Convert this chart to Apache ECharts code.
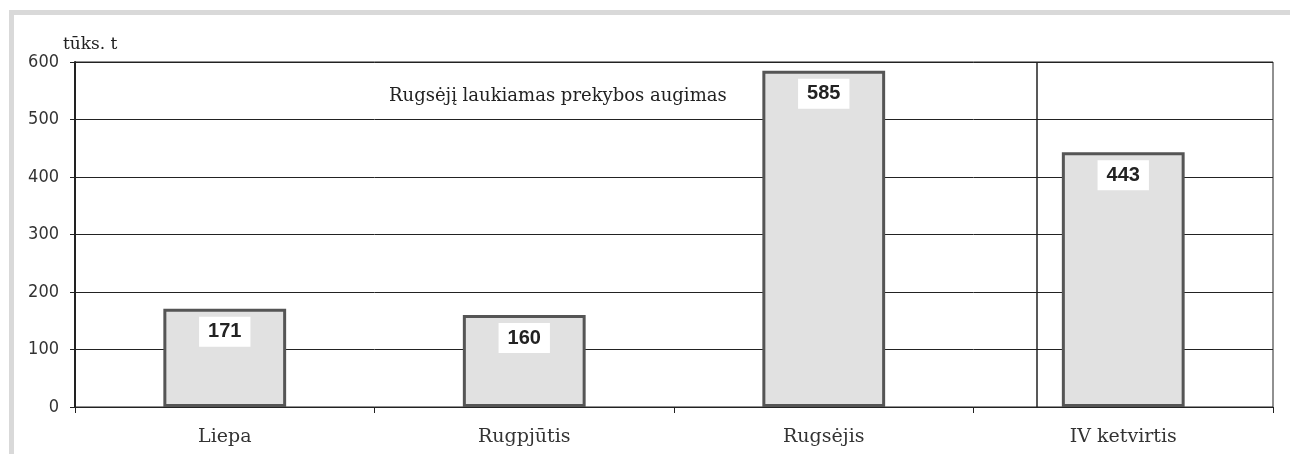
<!DOCTYPE html>
<html>
<head>
<meta charset="utf-8">
<script src="https://cdn.jsdelivr.net/npm/echarts@6/dist/echarts.min.js"></script>
<style>
    html, body { margin: 0; padding: 0; background: #fff; }
    #frame { position: absolute; left: 9px; top: 10px; width: 1276px; height: 450px;
             border-top: 5px solid #d9d9d9; border-left: 5px solid #d9d9d9; border-right: 2px solid #ececec; }
    #chart { position: absolute; left: 0; top: 0; width: 1290px; height: 454px; }
</style>
</head>
<body>
<div id="frame"></div>
<div id="chart"></div>
<script>
var categories = ["Liepa", "Rugpjūtis", "Rugsėjis", "IV ketvirtis"];
var values = [171, 160, 585, 443];
var yTicks = [0, 100, 200, 300, 400, 500, 600];
var unitName = "tūks. t";
var noteText = "Rugsėjį laukiamas prekybos augimas";
// separator between monthly and quarter data, in category units (0..4)
var separatorPos = 3.213;

var myChart = echarts.init(document.getElementById("chart"));
var option = {
    animation: false,
    grid: {
        left: 75, right: 17, top: 62, bottom: 47,
        show: true, borderColor: "#222", borderWidth: 1, backgroundColor: "transparent"
    },
    title: {
        text: noteText,
        left: 384, top: 82,
        textStyle: { fontFamily: "DejaVu Serif", fontWeight: "normal", fontSize: 18, color: "#222" }
    },
    xAxis: [{
        type: "category",
        data: categories,
        axisLine: { lineStyle: { color: "#222", width: 1 } },
        axisTick: { show: true, length: 6, lineStyle: { color: "#222" } },
        axisLabel: { fontFamily: "DejaVu Serif", fontSize: 19, color: "#333", margin: 21 }
    }, {
        type: "value",
        min: 0, max: 4,
        show: false
    }],
    yAxis: {
        type: "value",
        min: yTicks[0], max: yTicks[yTicks.length - 1], interval: 100,
        name: unitName,
        nameLocation: "end",
        nameGap: 9,
        nameTextStyle: { fontFamily: "DejaVu Serif", fontSize: 17, color: "#222", align: "left", padding: [0, 0, 0, -12] },
        axisLine: { show: true, lineStyle: { color: "#222", width: 2 } },
        axisTick: { show: true, length: 5, lineStyle: { color: "#222" } },
        axisLabel: { fontFamily: "DejaVu Sans Condensed", fontSize: 18, color: "#333", margin: 16 },
        splitLine: { show: true, lineStyle: { color: "#222", width: 1 } }
    },
    series: [{
        type: "bar",
        data: values,
        barWidth: "41%",
        itemStyle: { color: "#e1e1e1", borderColor: "#555", borderWidth: 3 },
        label: {
            show: true,
            position: "insideTop",
            distance: 8,
            fontFamily: "Liberation Sans",
            fontWeight: "bold",
            fontSize: 20,
            color: "#222",
            backgroundColor: "#fff",
            padding: [5, 9, 5, 9]
        }
    }, {
        type: "line",
        xAxisIndex: 1,
        data: [],
        silent: true,
        markLine: {
            symbol: "none",
            label: { show: false },
            lineStyle: { color: "#222", width: 1.5, type: "solid" },
            data: [{ xAxis: separatorPos }]
        }
    }]
};
myChart.setOption(option);
</script>
</body>
</html>
